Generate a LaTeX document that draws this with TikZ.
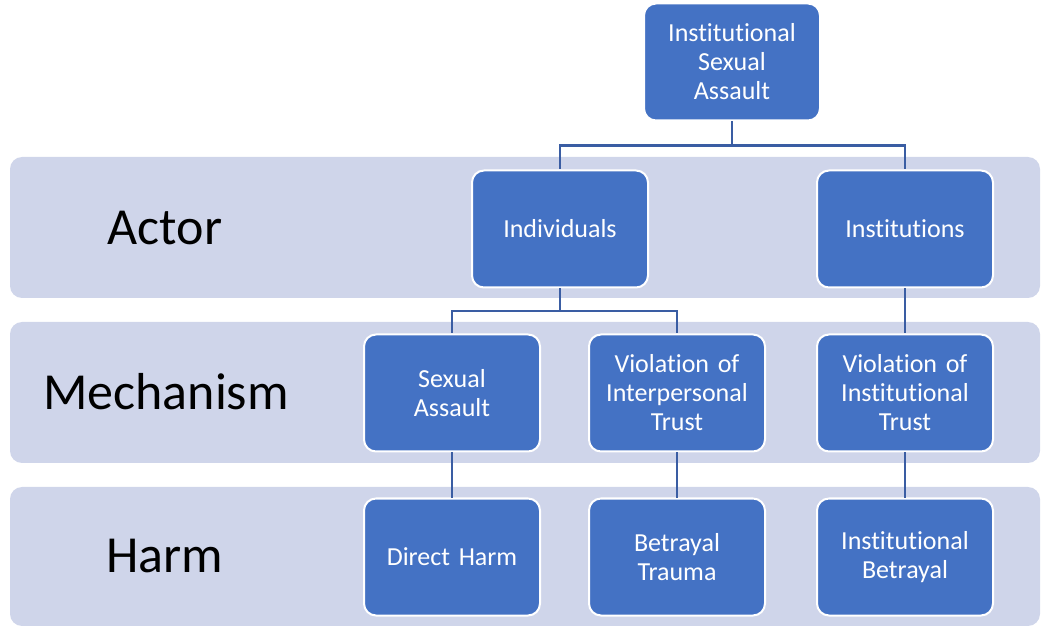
\documentclass[tikz,border=0pt]{standalone}
\usepackage{fontspec}
\setmainfont{Carlito}[Ligatures=NoCommon]
\usetikzlibrary{calc}
\definecolor{band}{HTML}{CFD5EA}
\definecolor{boxblue}{HTML}{4472C4}
\definecolor{linkblue}{HTML}{3A5DA3}

\begin{document}
\begin{tikzpicture}[x=0.5pt,y=-0.5pt,
  box/.style={draw=white,line width=1pt,fill=boxblue,rounded corners=6pt,
    minimum width=88pt,minimum height=58.5pt,text width=80pt,align=center,
    text=white,inner sep=0pt,font=\fontsize{13}{14.5}\selectfont},
  level/.style={font=\fontsize{26}{30}\selectfont},
  conn/.style={linkblue,line width=1.25pt}]
  \useasboundingbox (0,0) rectangle (1041,626);

  % bands
  \fill[band,rounded corners=6pt] (10,157) rectangle (1040,298);
  \fill[band,rounded corners=6pt] (10,322) rectangle (1040,463);
  \fill[band,rounded corners=6pt] (10,487) rectangle (1040,626);

  \node[level] (actor) at (165,228) {Actor};
  \node[level] (mech) at (166,392) {Mechanism};
  \node[level] (harm) at (165,556) {Harm};

  % boxes
  \node[box] (isa) at (732,62) {Institutional\\Sexual\\Assault};
  \node[box] (indiv) at (560,229) {Individuals};
  \node[box] (inst) at (905,229) {Institutions};
  \node[box] (sexas) at (452,393) {Sexual\\Assault};
  \node[box] (vit) at (677,393) {Violation of\\Interpersonal\\Trust};
  \node[box] (vinst) at (905,393) {Violation of\\Institutional\\Trust};
  \node[box] (direct) at (452,557) {Direct Harm};
  \node[box] (btrauma) at (677,557) {Betrayal\\Trauma};
  \node[box] (ibetray) at (905,557) {Institutional\\Betrayal};

  % connectors
  \draw[conn] (isa.south) |- ($(isa.south)!.5!(indiv.north)$) -| (indiv.north);
  \draw[conn] (isa.south) |- ($(isa.south)!.5!(inst.north)$) -| (inst.north);
  \draw[conn] (indiv.south) |- ($(indiv.south)!.5!(sexas.north)$) -| (sexas.north);
  \draw[conn] (indiv.south) |- ($(indiv.south)!.5!(vit.north)$) -| (vit.north);
  \draw[conn] (inst) -- (vinst);
  \draw[conn] (sexas) -- (direct);
  \draw[conn] (vit) -- (btrauma);
  \draw[conn] (vinst) -- (ibetray);
\end{tikzpicture}
\end{document}
